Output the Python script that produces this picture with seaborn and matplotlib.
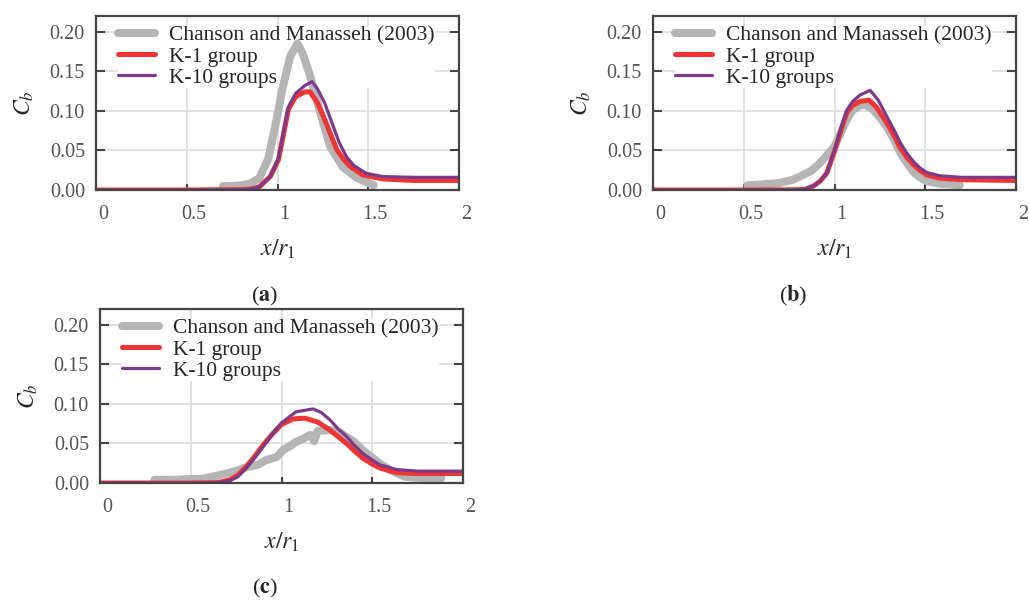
#!/usr/bin/env python3
"""
Bubble void fraction C_b along x/r_1: Chanson and Manasseh (2003) vs K-1 / K-10 models
"""

import matplotlib
matplotlib.use("Agg")
import matplotlib.pyplot as plt
import matplotlib.transforms as mtransforms
import seaborn as sns

# ---- data ----
# panel (a)
a_exp_x = [0.70, 0.75, 0.80, 0.85, 0.90, 0.95, 1.00, 1.03, 1.07, 1.11, 1.14, 1.18,
           1.235, 1.29, 1.36, 1.44, 1.53]
a_exp_y = [0.005, 0.005, 0.006, 0.008, 0.015, 0.040, 0.095, 0.131, 0.169, 0.185, 0.172,
           0.144, 0.098, 0.055, 0.029, 0.015, 0.006]
a_k1_x = [0, 0.5, 0.80, 0.85, 0.90, 0.96, 1.005, 1.06, 1.10, 1.15, 1.18, 1.22, 1.253,
          1.29, 1.327, 1.36, 1.40, 1.47, 1.58, 1.75, 2.0]
a_k1_y = [0, 0, 0.0005, 0.001, 0.004, 0.017, 0.038, 0.102, 0.118, 0.124, 0.124, 0.110,
          0.093, 0.072, 0.051, 0.040, 0.030, 0.019, 0.014, 0.012, 0.012]
a_k10_x = [0, 0.5, 0.80, 0.85, 0.90, 0.96, 1.005, 1.06, 1.10, 1.15, 1.19, 1.22, 1.26,
           1.30, 1.34, 1.38, 1.42, 1.49, 1.58, 1.75, 2.0]
a_k10_y = [0, 0, 0.0005, 0.001, 0.004, 0.017, 0.040, 0.105, 0.122, 0.132, 0.137, 0.128,
           0.110, 0.085, 0.060, 0.042, 0.031, 0.021, 0.017, 0.016, 0.016]

# panel (b)
b_exp_x = [0.52, 0.60, 0.70, 0.77, 0.81, 0.87, 0.92, 1.00, 1.068, 1.10, 1.14, 1.17, 1.21,
           1.25, 1.288, 1.33, 1.362, 1.40, 1.435, 1.47, 1.51, 1.58, 1.69]
b_exp_y = [0.006, 0.007, 0.009, 0.013, 0.017, 0.024, 0.034, 0.055, 0.089, 0.101, 0.107,
           0.108, 0.102, 0.092, 0.080, 0.063, 0.047, 0.034, 0.023, 0.016, 0.011, 0.008, 0.006]
b_k1_x = [0, 0.5, 0.80, 0.84, 0.884, 0.92, 0.957, 1.0, 1.035, 1.068, 1.10, 1.14, 1.19,
          1.23, 1.288, 1.33, 1.362, 1.40, 1.435, 1.47, 1.509, 1.58, 1.70, 2.0]
b_k1_y = [0, 0, 0.0003, 0.001, 0.005, 0.011, 0.021, 0.049, 0.075, 0.098, 0.107, 0.112,
          0.1136, 0.105, 0.085, 0.068, 0.053, 0.041, 0.032, 0.025, 0.019, 0.015, 0.013, 0.012]
b_k10_x = [0, 0.5, 0.80, 0.84, 0.884, 0.92, 0.957, 1.0, 1.035, 1.068, 1.10, 1.14, 1.196,
           1.24, 1.288, 1.33, 1.362, 1.40, 1.435, 1.47, 1.509, 1.58, 1.70, 2.0]
b_k10_y = [0, 0, 0.0003, 0.001, 0.005, 0.011, 0.021, 0.050, 0.078, 0.101, 0.112, 0.120,
           0.126, 0.114, 0.093, 0.075, 0.060, 0.046, 0.036, 0.028, 0.022, 0.018, 0.016, 0.016]

# panel (c)
c_exp_x = [0.30, 0.40, 0.50, 0.55, 0.60, 0.66, 0.73, 0.807, 0.87, 0.917, 0.974, 1.01,
           1.05, 1.08, 1.12, 1.16, 1.18, 1.20, 1.266, 1.32, 1.36, 1.40, 1.45, 1.50, 1.54,
           1.60, 1.68, 1.78, 1.88]
c_exp_y = [0.004, 0.004, 0.005, 0.005, 0.007, 0.010, 0.014, 0.020, 0.023, 0.029, 0.033,
           0.042, 0.047, 0.052, 0.056, 0.061, 0.053, 0.066, 0.067, 0.064, 0.058, 0.052,
           0.041, 0.032, 0.025, 0.016, 0.008, 0.006, 0.006]
c_k1_x = [0, 0.5, 0.65, 0.715, 0.76, 0.807, 0.85, 0.899, 0.95, 1.0, 1.064, 1.128, 1.20,
          1.266, 1.31, 1.358, 1.40, 1.45, 1.50, 1.542, 1.634, 1.75, 2.0]
c_k1_y = [0, 0, 0.0005, 0.004, 0.010, 0.021, 0.033, 0.048, 0.062, 0.074, 0.081, 0.082,
          0.077, 0.067, 0.059, 0.050, 0.041, 0.031, 0.024, 0.019, 0.013, 0.012, 0.012]
c_k10_x = [0, 0.5, 0.65, 0.715, 0.76, 0.807, 0.85, 0.899, 0.95, 1.0, 1.08, 1.174, 1.22,
           1.266, 1.31, 1.358, 1.40, 1.45, 1.50, 1.542, 1.634, 1.75, 2.0]
c_k10_y = [0, 0, 0.0005, 0.003, 0.008, 0.019, 0.031, 0.046, 0.062, 0.076, 0.090, 0.0937,
           0.089, 0.080, 0.069, 0.059, 0.048, 0.037, 0.029, 0.023, 0.017, 0.015, 0.015]

series_labels = ["Chanson and Manasseh (2003)", "K-1 group", "K-10 groups"]
x_ticks = [0, 0.5, 1, 1.5, 2]
x_tick_labels = ["0", "0.5", "1", "1.5", "2"]
y_ticks = [0.00, 0.05, 0.10, 0.15, 0.20]
y_tick_labels = ["0.00", "0.05", "0.10", "0.15", "0.20"]

# ---- style ----
sns.set_theme(style="whitegrid")
plt.rcParams['font.family'] = ['Liberation Serif', 'DejaVu Serif']
plt.rcParams['mathtext.fontset'] = 'stix'

GRAY = '#b5b5b5'
RED = '#ef3434'
PURPLE = '#7b3b8a'
SPINE = '#444444'


def draw_panel(fig, rect, exp_x, exp_y, k1_x, k1_y, k10_x, k10_y):
    ax = fig.add_axes(rect)
    sns.lineplot(x=exp_x, y=exp_y, ax=ax, color=GRAY, linewidth=5.8, label=series_labels[0])
    sns.lineplot(x=k1_x, y=k1_y, ax=ax, color=RED, linewidth=3.6, label=series_labels[1])
    sns.lineplot(x=k10_x, y=k10_y, ax=ax, color=PURPLE, linewidth=2.3, label=series_labels[2])

    ax.set_xlim(0, 2)
    ax.set_ylim(0, 0.22)
    ax.set_xticks(x_ticks)
    ax.set_xticklabels(x_tick_labels)
    ax.set_yticks(y_ticks)
    ax.set_yticklabels(y_tick_labels)
    ax.set_axisbelow(True)
    ax.grid(True, color='#dedede', lw=1.3)

    for sp in ax.spines.values():
        sp.set_color(SPINE)
        sp.set_linewidth(1.6)

    ax.tick_params(axis='y', direction='in', left=True, right=True, length=6.5, width=1.5,
                   color=SPINE, labelsize=14.5, labelcolor='#555555', pad=8)
    ax.tick_params(axis='x', direction='in', bottom=True, top=False, length=4.5, width=1.5,
                   color=SPINE, labelsize=14.5, labelcolor='#555555', pad=11)

    # x tick labels sit a little right of their ticks
    shift = mtransforms.ScaledTranslation(0.07, 0, fig.dpi_scale_trans)
    for lab in ax.get_xticklabels():
        lab.set_transform(lab.get_transform() + shift)

    ax.set_xlabel(r'$x/r_{\mathit{1}}$', fontsize=17, labelpad=10)
    ax.set_ylabel(r'$C_b$', fontsize=17, labelpad=10)

    leg = ax.legend(loc='upper left', bbox_to_anchor=(0.06, 0.945), borderaxespad=0,
                    borderpad=0.0, fontsize=15.5, handlelength=1.75, handletextpad=0.65,
                    labelspacing=0.05, frameon=True, facecolor='white', edgecolor='none',
                    framealpha=1, fancybox=False)
    leg.set_zorder(1.8)
    return ax


fig = plt.figure(figsize=(10.29, 6.01), dpi=100)

W, H = 363 / 1029, 174 / 601
draw_panel(fig, [96 / 1029, 1 - 190 / 601, W, H], a_exp_x, a_exp_y, a_k1_x, a_k1_y, a_k10_x, a_k10_y)
draw_panel(fig, [653 / 1029, 1 - 190 / 601, W, H], b_exp_x, b_exp_y, b_k1_x, b_k1_y, b_k10_x, b_k10_y)
draw_panel(fig, [100 / 1029, 1 - 483 / 601, W, H], c_exp_x, c_exp_y, c_k1_x, c_k1_y, c_k10_x, c_k10_y)

cap_kw = dict(ha='center', va='center', fontsize=16)
fig.text(265 / 1029, 1 - 296 / 601, r'($\mathbf{a}$)', **cap_kw)
fig.text(793 / 1029, 1 - 296 / 601, r'($\mathbf{b}$)', **cap_kw)
fig.text(265 / 1029, 1 - 588 / 601, r'($\mathbf{c}$)', **cap_kw)

fig.savefig('out.png', dpi=100)
